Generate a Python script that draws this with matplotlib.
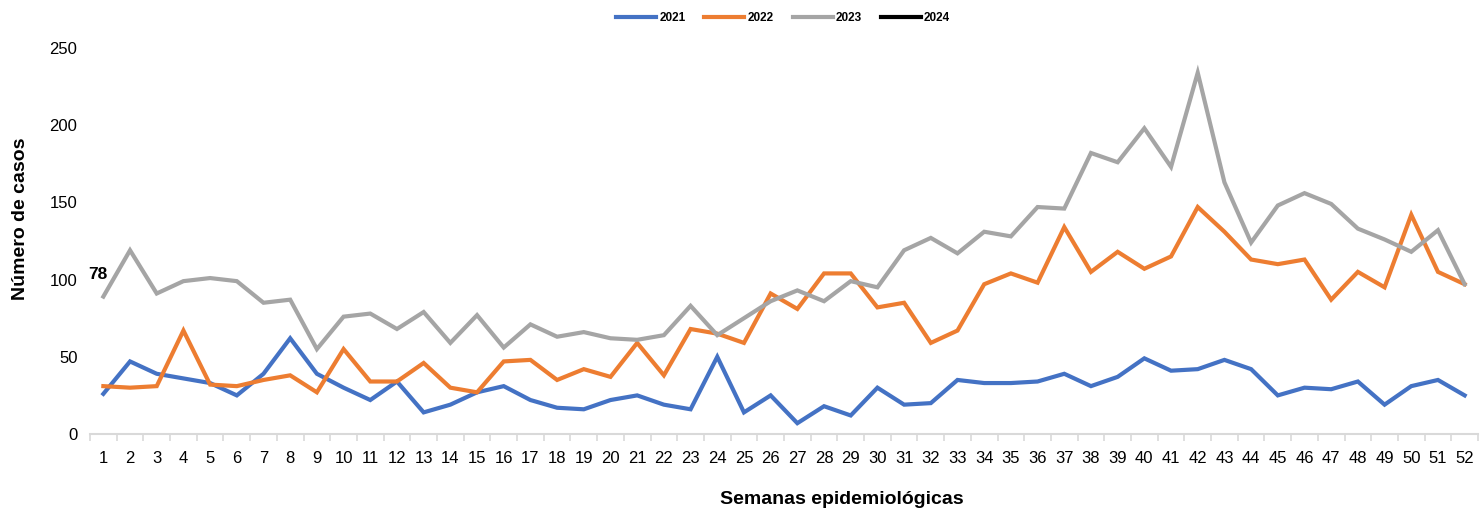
import numpy as np
import matplotlib
matplotlib.use("Agg")
import matplotlib.pyplot as plt
from matplotlib import font_manager

plt.rcParams['font.family'] = ['Liberation Sans', 'DejaVu Sans']

semanas = list(range(1, 53))

casos_2021 = [26, 47, 39, 36, 33, 25, 39, 62, 39, 30, 22, 34, 14,
              19, 27, 31, 22, 17, 16, 22, 25, 19, 16, 50, 14, 25, 7,
              18, 12, 30, 19, 20, 35, 33, 33, 34, 39, 31, 37, 49,
              41, 42, 48, 42, 25, 30, 29, 34, 19, 31, 35, 25]
casos_2022 = [31, 30, 31, 67, 32, 31, 35, 38, 27, 55, 34, 34, 46,
              30, 27, 47, 48, 35, 42, 37, 59, 38, 68, 65, 59, 91, 81,
              104, 104, 82, 85, 59, 67, 97, 104, 98, 134, 105, 118, 107,
              115, 147, 131, 113, 110, 113, 87, 105, 95, 142, 105, 97]
casos_2023 = [89, 119, 91, 99, 101, 99, 85, 87, 55, 76, 78, 68, 79,
              59, 77, 56, 71, 63, 66, 62, 61, 64, 83, 64, 75, 86, 93,
              86, 99, 95, 119, 127, 117, 131, 128, 147, 146, 182, 176, 198,
              173, 234, 163, 124, 148, 156, 149, 133, 126, 118, 132, 97]
casos_2024 = [78] + [np.nan] * 51

series = [("2021", casos_2021, "#4472C4"),
          ("2022", casos_2022, "#ED7D31"),
          ("2023", casos_2023, "#A5A5A5"),
          ("2024", casos_2024, "#000000")]

# narrow font for the legend if there is one
names = {f.name for f in font_manager.fontManager.ttflist}
leg_family = 'Liberation Sans Narrow' if 'Liberation Sans Narrow' in names else 'Liberation Sans'
leg_size = 10 if leg_family == 'Liberation Sans Narrow' else 8.5

fig = plt.figure(figsize=(14.8, 5.09), dpi=100)
ax = fig.add_axes([90 / 1480, 1 - 434 / 509, (1478 - 90) / 1480, (434 - 48) / 509])

for name, vals, col in series:
    ax.plot(semanas, vals, color=col, lw=3, label=name, solid_joinstyle='miter')

ax.annotate("78", xy=(1, casos_2024[0]), xytext=(-4, 28), textcoords='offset points',
            ha='center', va='center', fontsize=12.5, fontweight='bold')

ax.set_xlim(0.5, 52.5)
ax.set_ylim(0, 250)
ax.set_xticks(semanas)
ax.set_xticklabels([str(s) for s in semanas], fontsize=12)
ax.set_xticks(np.arange(0.5, 53, 1), minor=True)
ax.tick_params(axis='x', which='major', length=0, pad=12)
ax.tick_params(axis='x', which='minor', length=5, color='#D9D9D9', width=1.2)
ax.set_yticks(range(0, 251, 50))
ax.tick_params(axis='y', length=0, labelsize=12, pad=9)

for s in ['left', 'top', 'right']:
    ax.spines[s].set_visible(False)
ax.spines['bottom'].set_color('#D9D9D9')
ax.spines['bottom'].set_linewidth(1.5)

fig.text(21 / 1480, 1 - 219 / 509, "Número de casos", rotation=90, ha='center',
         va='center', fontsize=14, fontweight='bold')
fig.text(842 / 1480, 1 - 499 / 509, "Semanas epidemiológicas", ha='center',
         va='center', fontsize=14, fontweight='bold')

fig.legend(loc='center', bbox_to_anchor=(783 / 1480, 1 - 18 / 509), ncol=4,
           frameon=False, prop={'family': leg_family, 'size': leg_size, 'weight': 'bold'},
           handlelength=28.8 / leg_size, handletextpad=0.25,
           columnspacing=13.7 / leg_size)

fig.savefig("out.png", dpi=100)
